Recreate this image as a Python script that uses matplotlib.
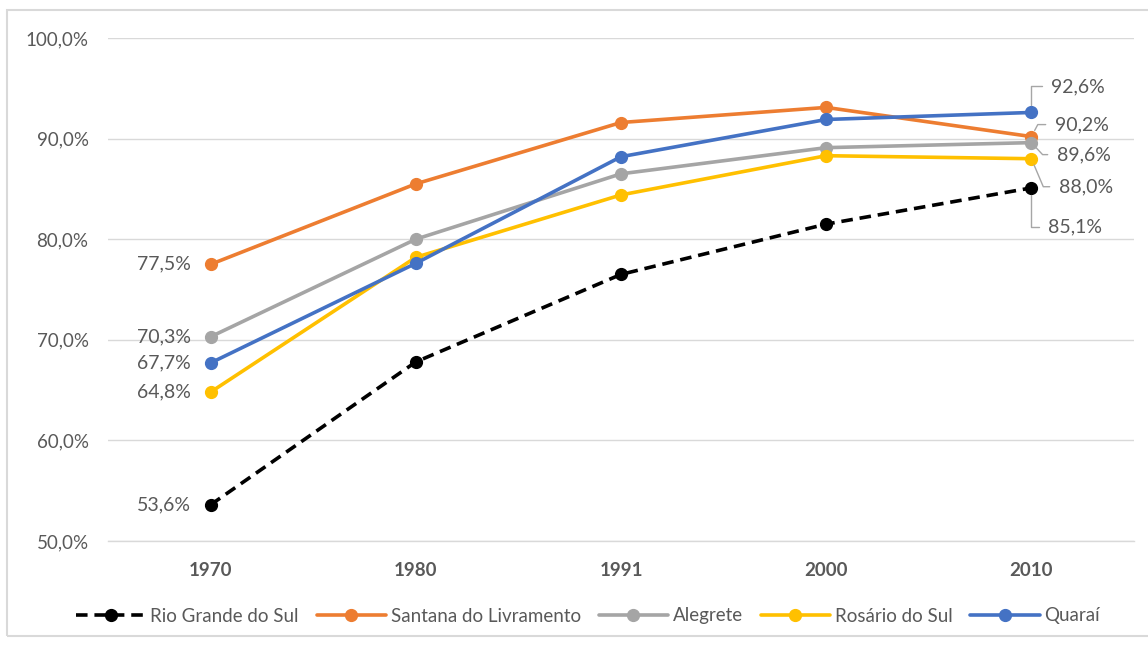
import matplotlib
matplotlib.use("Agg")
import matplotlib.pyplot as plt
from matplotlib.patches import Rectangle

plt.rcParams['font.family'] = ['Lato', 'DejaVu Sans']

# Data
years = ["1970", "1980", "1991", "2000", "2010"]
series_names = ["Rio Grande do Sul", "Santana do Livramento", "Alegrete",
                "Rosário do Sul", "Quaraí"]
rio_grande_do_sul = [53.6, 67.8, 76.5, 81.5, 85.1]
santana_do_livramento = [77.5, 85.5, 91.6, 93.1, 90.2]
alegrete = [70.3, 80.0, 86.5, 89.1, 89.6]
rosario_do_sul = [64.8, 78.2, 84.4, 88.3, 88.0]
quarai = [67.7, 77.6, 88.2, 91.9, 92.6]
y_ticks = [50, 60, 70, 80, 90, 100]

values = [rio_grande_do_sul, santana_do_livramento, alegrete, rosario_do_sul, quarai]
colors = ["#000000", "#ED7D31", "#A5A5A5", "#FFC000", "#4472C4"]
text_color = "#595959"
grid_color = "#D9D9D9"

W, H = 1148, 646
fig = plt.figure(figsize=(W / 100, H / 100), dpi=100)
fig.patch.set_facecolor("white")

# outer chart frame
fig.add_artist(Rectangle((7 / W, 1 - 636 / H), 1.2, (636 - 10) / H,
                         transform=fig.transFigure, fill=False,
                         edgecolor=grid_color, lw=1.5))

ax = fig.add_axes([108 / W, 1 - 541 / H, (1134 - 108) / W, (541 - 38) / H])
x = list(range(len(years)))

for i, (name, vals, col) in enumerate(zip(series_names, values, colors)):
    ls = (0, (3.2, 1.9)) if i == 0 else "-"
    ax.plot(x, vals, color=col, lw=2.6, ls=ls, marker="o", markersize=8.5,
            markerfacecolor=col, markeredgecolor=col, label=name,
            solid_capstyle="round", dash_capstyle="butt", zorder=3 + i)

ax.set_xlim(-0.5, len(years) - 0.5)
ax.set_ylim(50, 100)
ax.set_yticks(y_ticks)
ax.set_yticklabels([f"{v:.1f}%".replace(".", ",") for v in y_ticks])
ax.set_xticks(x)
ax.set_xticklabels(years, fontweight="bold")
ax.tick_params(axis="both", length=0, colors=text_color, labelsize=13.5)
ax.tick_params(axis="y", pad=14)
ax.tick_params(axis="x", pad=15)
ax.grid(axis="y", color=grid_color, lw=1)
ax.set_axisbelow(True)
for s in ["left", "right", "top"]:
    ax.spines[s].set_visible(False)
ax.spines["bottom"].set_color(grid_color)
ax.spines["bottom"].set_linewidth(1)

def fmt(v):
    return f"{v:.1f}%".replace(".", ",")

# labels on the first year
for vals in values:
    ax.annotate(fmt(vals[0]), (0, vals[0]), xytext=(-20, 0),
                textcoords="offset pixels", ha="right", va="center",
                fontsize=14, color=text_color)

# labels on the last year with leader lines
last = len(years) - 1
label_layout = [
    (rio_grande_do_sul, (17, -39), 90),
    (santana_do_livramento, (24, 12), 62),
    (alegrete, (26, -12), -47),
    (rosario_do_sul, (28, -28), -67),
    (quarai, (20, 26), 90),
]
for vals, off, angle_b in label_layout:
    ax.annotate(fmt(vals[last]), (last, vals[last]), xytext=off,
                textcoords="offset pixels", ha="left", va="center",
                fontsize=14, color=text_color, zorder=20,
                arrowprops=dict(arrowstyle="-", color="#A6A6A6", lw=1,
                                relpos=(0, 0.5), shrinkA=5, shrinkB=5,
                                connectionstyle=f"angle,angleA=0,angleB={angle_b},rad=0"))

fig.legend(loc="center", bbox_to_anchor=(588 / W, 1 - 616 / H), ncol=5,
           frameon=False, fontsize=13.5, labelcolor=text_color,
           handlelength=3.7, handletextpad=0.25, columnspacing=0.95)

fig.savefig("out.png", dpi=100)
